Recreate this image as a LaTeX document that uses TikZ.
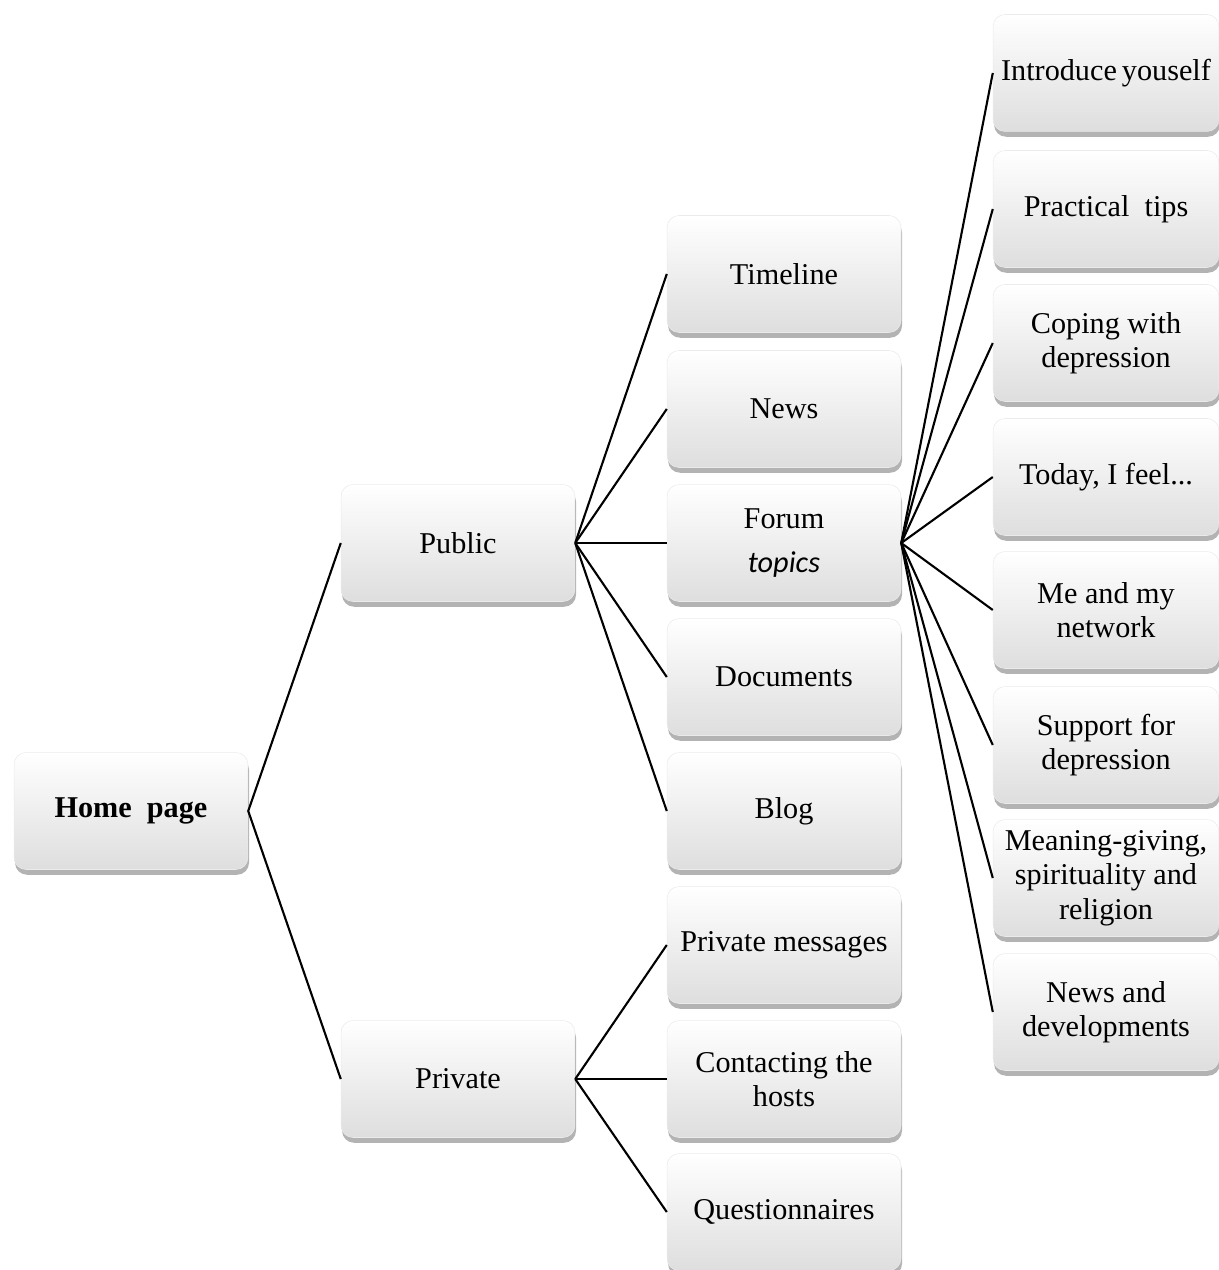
\documentclass[tikz,border=0pt]{standalone}
\usepackage{fontspec}
\setmainfont{Liberation Serif}
\newfontfamily\topicsfont{Carlito}
\usetikzlibrary{shadows}
\begin{document}
\begin{tikzpicture}[x=0.02cm, y=-0.02cm,
    box/.style = {rounded corners=0.24cm, top color=white, bottom color=black!13,
      draw=black!8, line width=0.3pt, align=center,
      drop shadow={shadow xshift=0.6pt, shadow yshift=-3pt, opacity=0.6},
      font=\fontsize{17.2}{19.5}\selectfont, inner sep=0pt},
    midbox/.style = {box, minimum width=4.68cm, minimum height=2.34cm},
    leafbox/.style = {box, minimum width=4.52cm, minimum height=2.34cm},
    link/.style = {line width=1.2pt}]
  \useasboundingbox (0,0) rectangle (1219,1270);
  % root
  \node[midbox] at (131,811) (home) {\textbf{Home\ \ page}};
  % second level
  \node[midbox] at (458,543) (public) {Public};
  \node[midbox] at (458,1079) (private) {Private};
  % public branch
  \node[midbox] at (784,274) (timeline) {Timeline};
  \node[midbox] at (784,409) (news) {News};
  \node[midbox] at (784,543) (forum) {Forum\\[6pt]{\topicsfont\itshape topics}};
  \node[midbox] at (784,677) (documents) {Documents};
  \node[midbox] at (784,811) (blog) {Blog};
  % private branch
  \node[midbox] at (784,945) (messages) {Private messages};
  \node[midbox] at (784,1079) (hosts) {Contacting the\\hosts};
  \node[midbox] at (784,1212) (questions) {Questionnaires};
  % forum topics
  \node[leafbox] at (1106,73) (intro) {Introduce\,youself};
  \node[leafbox] at (1106,209) (tips) {Practical\ \ tips};
  \node[leafbox] at (1106,343) (coping) {Coping with\\depression};
  \node[leafbox] at (1106,477) (today) {Today, I feel...};
  \node[leafbox] at (1106,610) (network) {Me and my\\network};
  \node[leafbox] at (1106,745) (support) {Support for\\depression};
  \node[leafbox] at (1106,878) (meaning) {Meaning-giving,\\spirituality and\\religion};
  \node[leafbox] at (1106,1012) (developments) {News and\\developments};
  % connectors
  \draw[link] (public.west) -- (home.east) -- (private.west);
  \draw[link] (public.east) -- (timeline.west);
  \draw[link] (public.east) -- (news.west);
  \draw[link] (public.east) -- (forum.west);
  \draw[link] (public.east) -- (documents.west);
  \draw[link] (public.east) -- (blog.west);
  \draw[link] (private.east) -- (messages.west);
  \draw[link] (private.east) -- (hosts.west);
  \draw[link] (private.east) -- (questions.west);
  \draw[link] (forum.east) -- (intro.west);
  \draw[link] (forum.east) -- (tips.west);
  \draw[link] (forum.east) -- (coping.west);
  \draw[link] (forum.east) -- (today.west);
  \draw[link] (forum.east) -- (network.west);
  \draw[link] (forum.east) -- (support.west);
  \draw[link] (forum.east) -- (meaning.west);
  \draw[link] (forum.east) -- (developments.west);
\end{tikzpicture}
\end{document}
